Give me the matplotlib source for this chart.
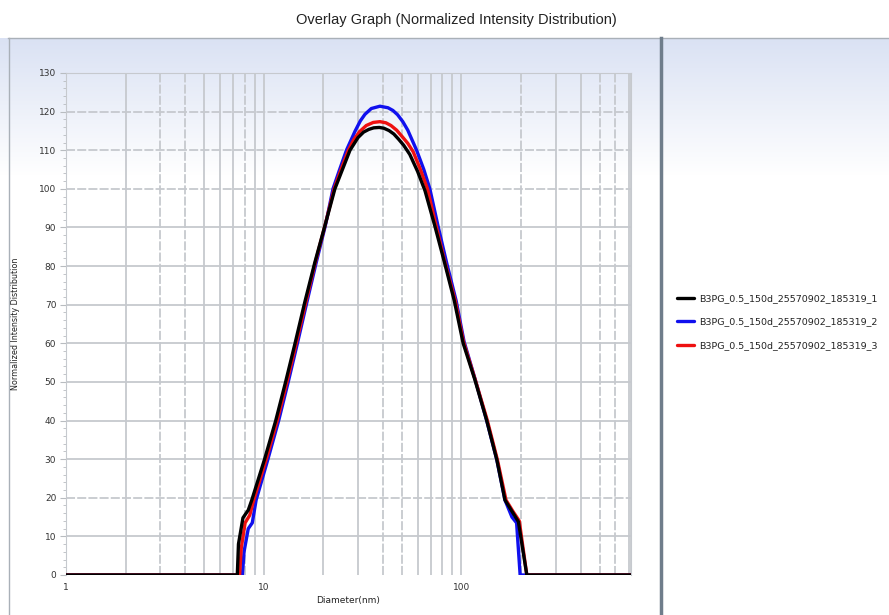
import numpy as np
import matplotlib
matplotlib.use("Agg")
import matplotlib.pyplot as plt

# Diameter (nm) / normalized intensity
d_run1 = [1, 7.35, 7.45, 7.85, 8.35, 8.7, 10.1, 11.5, 12.9, 14.4, 16.1, 18.1, 20.4, 22.9,
          25.0, 27.3, 30.0, 32.0, 34.0, 36.0, 38.4, 40.5, 43.0, 45.5, 48.0, 51.0, 54.8,
          60.0, 65.4, 73.5, 82.0, 92.0, 102, 117, 134, 151, 166, 180, 194, 214, 720]
v_run1 = [0, 0, 8, 14.8, 16.8, 19.4, 30, 40, 50, 60, 70.5, 80.8, 90.5, 100,
          105, 110, 113.3, 114.7, 115.4, 115.8, 115.9, 115.7, 115.1, 114.2, 112.9, 111.3, 108.9,
          104.5, 99.5, 90.2, 81, 71, 60, 50.5, 40.1, 29.8, 19.4, 16.5, 13.8, 0, 0]

d_run2 = [1, 7.8, 7.95, 8.35, 8.75, 9.15, 10.5, 11.9, 13.3, 14.8, 16.5, 18.4, 20.5, 22.4,
          24.2, 26.2, 29.0, 30.8, 32.5, 35.0, 38.7, 42.5, 45.0, 47.5, 50.5, 53.5, 59.3,
          64.5, 69.2, 76.0, 84.0, 94.0, 103, 117.5, 134, 151, 166, 180, 190, 198, 720]
v_run2 = [0, 0, 6, 12, 13.5, 19.4, 30, 40, 50, 60, 70.5, 80.8, 90.5, 100,
          105, 110, 115, 117.6, 119.3, 120.8, 121.4, 121.0, 120.3, 119.2, 117.4, 115.2, 110,
          105, 100, 90.5, 81, 71, 60.5, 50.5, 40.1, 29.8, 19.4, 15, 13.5, 0, 0]

d_run3 = [1, 7.55, 7.7, 8.05, 8.5, 8.9, 10.3, 11.7, 13.1, 14.6, 16.3, 18.2, 20.4, 22.7,
          24.6, 26.8, 28.5, 30.5, 33.0, 35.8, 38.7, 41.5, 44.0, 47.0, 50.0, 53.5, 57.0,
          62.0, 67.3, 74.5, 82.5, 93.0, 102.5, 117.5, 135, 152, 168, 182, 196, 214, 720]
v_run3 = [0, 0, 7, 13.5, 15.5, 19.4, 30, 40, 50, 60, 70.5, 80.8, 90.5, 100,
          105, 110, 112.7, 114.8, 116.4, 117.2, 117.4, 117.1, 116.4, 115.2, 113.6, 111.8, 109.6,
          105, 100, 90.3, 81, 71, 60.3, 50.5, 40.1, 29.8, 19.4, 16.5, 14, 0, 0]

labels = ["B3PG_0.5_150d_25570902_185319_1",
          "B3PG_0.5_150d_25570902_185319_2",
          "B3PG_0.5_150d_25570902_185319_3"]
colors = ["#000000", "#1010ee", "#ee1010"]

W, H = 889, 615
fig = plt.figure(figsize=(W / 100, H / 100), dpi=100)

# background: white title strip, bluish gradient fading to white
bg = fig.add_axes([0, 0, 1, 1], zorder=-5)
rows = np.ones((H, 1, 3))
top, fade = 38, 175
c0 = np.array([0.855, 0.885, 0.955])
for r in range(top, fade):
    t = (r - top) / (fade - top)
    rows[r, 0] = c0 * (1 - t) + np.ones(3) * t
bg.imshow(rows, aspect="auto", extent=[0, W, H, 0])
bg.plot([8, W], [38, 38], color="#a9b0b8", lw=1)
bg.plot([8.5, 8.5], [38, H], color="#a9b0b8", lw=1)
bg.plot([661, 661], [38, H], color="#6f7d8b", lw=2.5)
bg.set_xlim(0, W)
bg.set_ylim(H, 0)
bg.axis("off")

fig.text(456 / W, 1 - 20 / H, "Overlay Graph (Normalized Intensity Distribution)",
         ha="center", va="center", fontsize=10.5, family="Liberation Sans", color="#222222")

ax = fig.add_axes([66 / W, 40 / H, 565 / W, 502 / H])
ax.set_facecolor("none")
ax.set_xscale("log")
ax.set_xlim(1, 720)
ax.set_ylim(0, 130)

grid_c = "#c6c9ce"
dashed_x = [3, 4, 8, 40, 50, 200, 500, 600]
xs = [m * 10 ** e for e in range(3) for m in range(1, 10)]
for x in xs:
    if 1 < x < 720:
        ls = (0, (5, 1.2)) if x in dashed_x else "-"
        ax.axvline(x, color=grid_c, lw=1.3, ls=ls, zorder=0)
for y in range(10, 131, 10):
    ls = (0, (5, 1.2)) if y in (20, 100, 110, 120) else "-"
    ax.axhline(y, color=grid_c, lw=1.3, ls=ls, zorder=0)
ax.axvline(720, color=grid_c, lw=1.3, zorder=0)

runs = [(d_run1, v_run1), (d_run2, v_run2), (d_run3, v_run3)]
zs = [5, 3, 4]
for (d, v), c, lab, z in zip(runs, colors, labels, zs):
    ax.plot(d, v, color=c, lw=2.4, label=lab, solid_joinstyle="round",
            solid_capstyle="round", zorder=z)

ax.set_yticks(range(0, 131, 10))
ax.set_yticks(range(0, 131, 2), minor=True)
ax.set_xticks([1, 10, 100])
ax.set_xticklabels(["1", "10", "100"])
ax.set_xticks([], minor=True)
ax.tick_params(axis="y", which="major", length=4, color="#b8bcc0", labelsize=6.5, pad=3)
ax.tick_params(axis="y", which="minor", length=2, color="#b8bcc0")
ax.tick_params(axis="x", which="major", length=0, labelsize=6.5, pad=6)
for lab in ax.get_xticklabels() + ax.get_yticklabels():
    lab.set_color("#333333")
for s in ax.spines.values():
    s.set_color(grid_c)
ax.spines["bottom"].set_visible(False)

ax.set_xlabel("Diameter(nm)", fontsize=6.5, labelpad=3, color="#222222")
ax.set_ylabel("Normalized Intensity Distribution", fontsize=5.8, labelpad=14, color="#222222")

leg = ax.legend(loc="center left", bbox_to_anchor=(668 / W, 1 - 322 / H),
                bbox_transform=fig.transFigure, frameon=False, fontsize=6.8,
                handlelength=1.9, handletextpad=0.5, labelspacing=1.55)
for t in leg.get_texts():
    t.set_color("#222222")

fig.savefig("out.png", dpi=100)
